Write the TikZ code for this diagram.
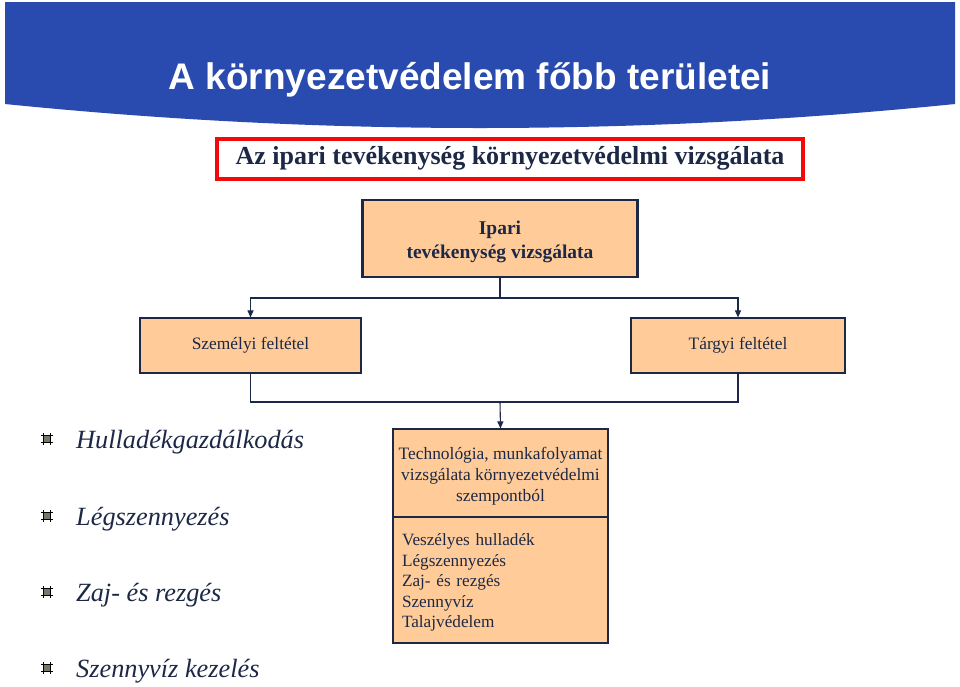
\documentclass[tikz,border=0pt]{standalone}
\usepackage{fontspec}
\setmainfont{Liberation Serif}
\newfontfamily\titlefont{Liberation Sans}
\usetikzlibrary{arrows.meta,calc}
\definecolor{hdrblue}{RGB}{41,75,175}
\definecolor{peach}{RGB}{255,204,153}
\definecolor{navy}{RGB}{28,40,70}
\definecolor{redbox}{RGB}{240,10,10}
\definecolor{bulletgray}{RGB}{120,120,105}
\tikzset{
  box/.style={draw=navy, fill=peach, line width=1.2pt, inner sep=0pt, align=center, text=navy},
  boxtext/.style={inner sep=0pt, align=center, text=navy},
  conn/.style={draw=navy, line width=1.1pt},
  arr/.style={conn, -{Triangle[length=7pt,width=6pt]}},
  listtext/.style={anchor=base west, text=navy, font=\fontsize{26.3}{30}\selectfont\itshape, inner sep=0pt},
}
\newcommand{\hashbullet}[1]{%
  \fill[bulletgray] ($#1+(-4,-4)$) rectangle ($#1+(4,4)$);
  \draw[black, line width=1.5pt] ($#1+(-3.3,-6)$) -- ($#1+(-3.3,6)$);
  \draw[black, line width=1.5pt] ($#1+(3.3,-6)$) -- ($#1+(3.3,6)$);
  \draw[black, line width=1.5pt] ($#1+(-6,-3.3)$) -- ($#1+(6,-3.3)$);
  \draw[black, line width=1.5pt] ($#1+(-6,3.3)$) -- ($#1+(6,3.3)$);
}
\begin{document}
\begin{tikzpicture}[x=1pt,y=-1pt]
\useasboundingbox (0,0) rectangle (960,686);
\fill[white] (0,0) rectangle (960,686);
% header
\fill[hdrblue] (5,2) -- (955,2) -- (955,104) .. controls (638.3,136) and (321.7,136) .. (5,104) -- cycle;
\node[text=white, font=\titlefont\bfseries\fontsize{37}{40}\selectfont] (title) at (470,80) {A környezetvédelem főbb területei};
% red box
\node[draw=redbox, line width=4pt, minimum width=586pt, minimum height=40pt, inner sep=0pt, text=navy,
      font=\bfseries\fontsize{26}{30}\selectfont] (sub) at (510,158.5) {Az ipari tevékenység környezetvédelmi vizsgálata};
% boxes
\node[box, line width=2.2pt, minimum width=275pt, minimum height=77pt] (ipari) at (500,238.5) {};
\node[boxtext, font=\bfseries\fontsize{19.5}{24}\selectfont] (ipariText) at (500,242) {Ipari\\tevékenység vizsgálata};
\node[box, minimum width=221pt, minimum height=55pt, font=\fontsize{17.4}{20}\selectfont] (szem) at (250.5,345.5) {Személyi feltétel};
\node[box, minimum width=214pt, minimum height=55pt, font=\fontsize{17.4}{20}\selectfont] (targy) at (738,345.5) {Tárgyi feltétel};
\node[box, minimum width=215pt, minimum height=88pt] (tech) at (500.5,473) {};
\node[boxtext, font=\fontsize{17.4}{21}\selectfont] (techText) at (500.5,476) {Technológia, munkafolyamat\\vizsgálata környezetvédelmi\\szempontból};
\node[box, minimum width=215pt, minimum height=126pt] (lst) at (500.5,580) {};
\node[boxtext, font=\fontsize{17.2}{20.5}\selectfont, align=left, text width=197pt] (lstText) at (500.5,582.5) {Veszélyes hulladék\\Légszennyezés\\Zaj- és rezgés\\Szennyvíz\\Talajvédelem};
% connectors
\coordinate (j1) at (500,298);
\coordinate (j2) at (500,402);
\draw[conn] (ipari.south) -- (j1);
\draw[arr] (j1) -| (szem.north);
\draw[arr] (j1) -| (targy.north);
\draw[conn] (szem.south) |- (j2) -| (targy.south);
\draw[arr] (j2) -- (tech.north);
% left list
\hashbullet{(47,439)}
\hashbullet{(47,516)}
\hashbullet{(47,592)}
\hashbullet{(47,668)}
\node[listtext] (l1) at (76,448) {Hulladékgazdálkodás};
\node[listtext] (l2) at (76,525) {Légszennyezés};
\node[listtext] (l3) at (76,601) {Zaj- és rezgés};
\node[listtext] (l4) at (76,677) {Szennyvíz kezelés};
\end{tikzpicture}
\end{document}
